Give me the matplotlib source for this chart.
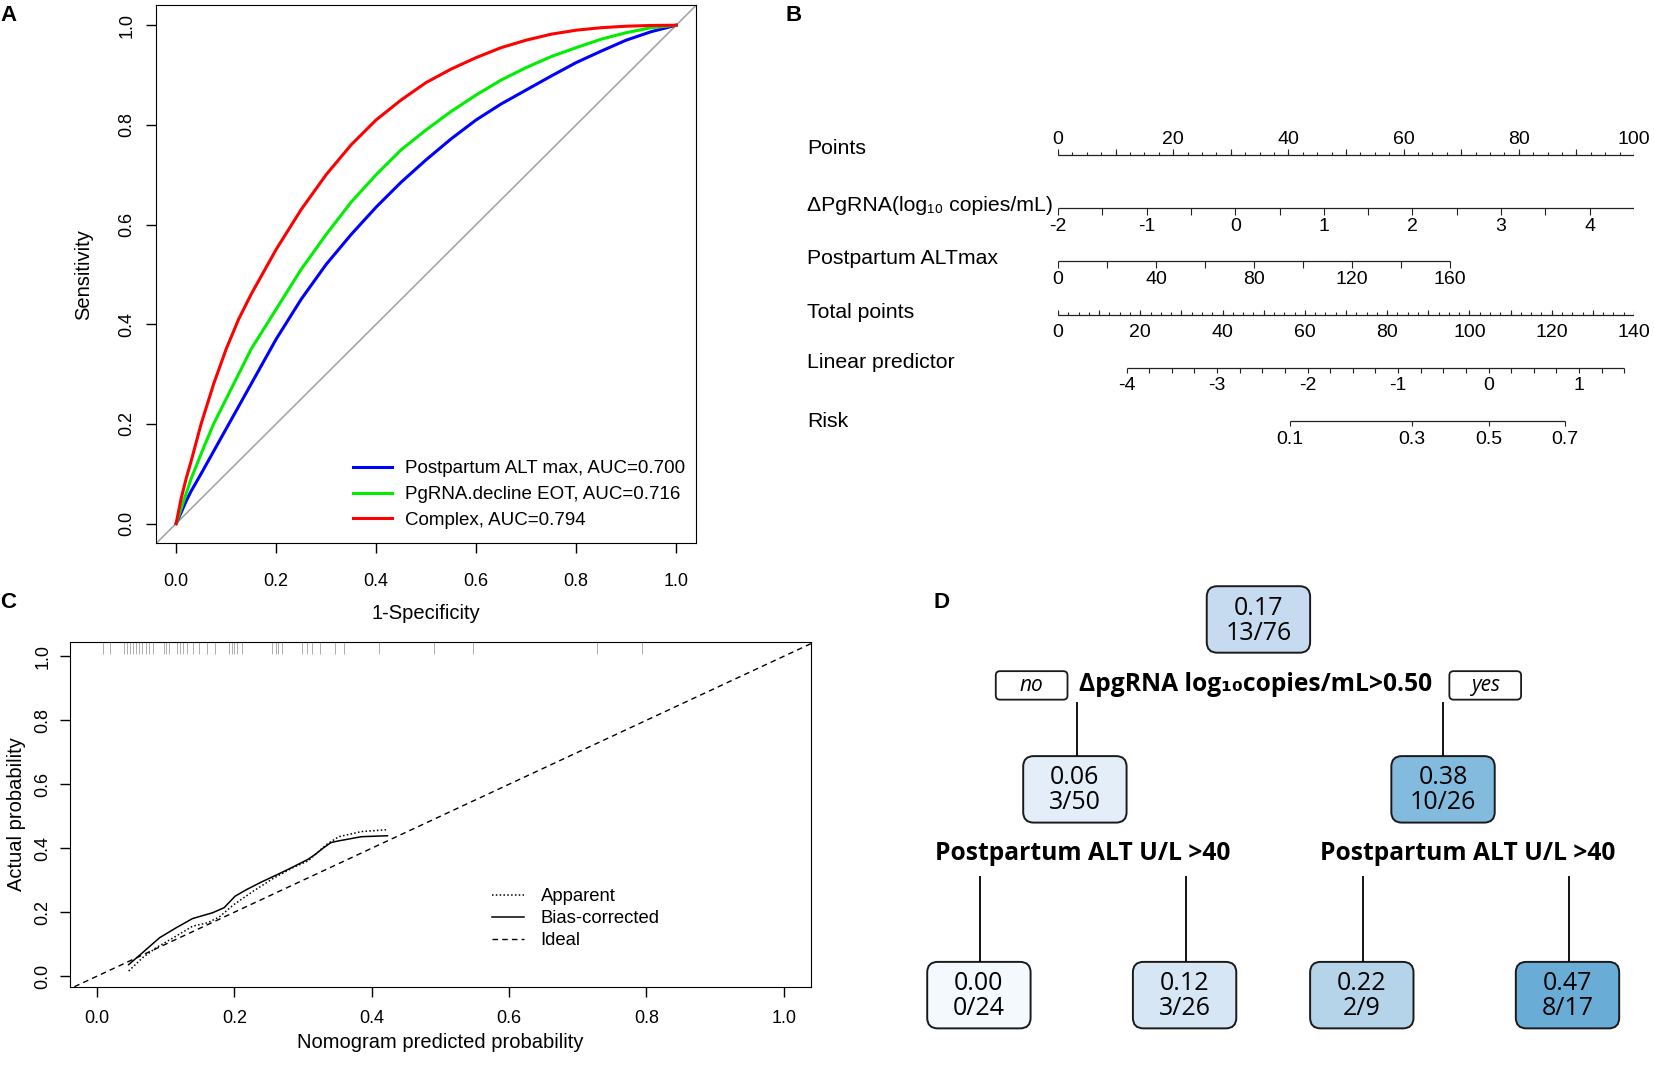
import numpy as np
import matplotlib
matplotlib.use("Agg")
import matplotlib.pyplot as plt
import matplotlib.transforms as mtrans
from matplotlib.patches import FancyBboxPatch

plt.rcParams["font.family"] = ["Liberation Sans", "DejaVu Sans"]
TREE_FONT = ["Open Sans", "DejaVu Sans"]

# ---------------- data ----------------
# A: ROC curves
roc_fpr = [0, 0.01, 0.02, 0.03, 0.05, 0.075, 0.1, 0.125, 0.15, 0.175, 0.2, 0.25, 0.3, 0.35,
           0.4, 0.45, 0.5, 0.55, 0.6, 0.65, 0.7, 0.75, 0.8, 0.85, 0.9, 0.95, 1.0]
roc_alt = [0, 0.022, 0.045, 0.065, 0.10, 0.145, 0.19, 0.235, 0.28, 0.325, 0.37, 0.45, 0.52,
           0.58, 0.635, 0.685, 0.73, 0.772, 0.81, 0.842, 0.87, 0.898, 0.925, 0.948, 0.97,
           0.987, 1.0]
roc_pgrna = [0, 0.03, 0.06, 0.09, 0.14, 0.20, 0.25, 0.30, 0.35, 0.39, 0.43, 0.51, 0.58,
             0.645, 0.70, 0.75, 0.79, 0.827, 0.86, 0.89, 0.915, 0.937, 0.955, 0.972, 0.985,
             0.995, 1.0]
roc_complex = [0, 0.05, 0.09, 0.125, 0.20, 0.28, 0.35, 0.41, 0.46, 0.505, 0.55, 0.63, 0.70,
               0.76, 0.81, 0.85, 0.885, 0.912, 0.935, 0.955, 0.97, 0.982, 0.99, 0.995,
               0.998, 0.9995, 1.0]
roc_names = ["Postpartum ALT max, AUC=0.700", "PgRNA.decline EOT, AUC=0.716", "Complex, AUC=0.794"]
roc_colors = ["#0000ff", "#00ee00", "#ff0000"]

# B: nomogram scales
points_labels = [0, 20, 40, 60, 80, 100]
dpg_labels = [-2, -1, 0, 1, 2, 3, 4]
dpg_range = (-2, 4.5)
alt_labels = [0, 40, 80, 120, 160]
alt_points_max = 68.1
total_labels = [0, 20, 40, 60, 80, 100, 120, 140]
lp_labels = [-4, -3, -2, -1, 0, 1]
lp_range = (-4, 1.5)
lp_at_zero = -4.757      # linear predictor at 0 total points
lp_per_point = 1 / 22.0
risk_labels = [0.1, 0.3, 0.5, 0.7]
row_names = ["Points", "\u0394PgRNA(log\u2081\u2080 copies/mL)", "Postpartum ALTmax",
             "Total points", "Linear predictor", "Risk"]

# C: calibration
app_x = [0.046, 0.066, 0.086, 0.115, 0.139, 0.161, 0.178, 0.198, 0.227, 0.256, 0.285,
         0.307, 0.318, 0.335, 0.352, 0.385, 0.423]
app_y = [0.016, 0.057, 0.089, 0.125, 0.156, 0.167, 0.185, 0.222, 0.265, 0.305, 0.339,
         0.360, 0.381, 0.413, 0.436, 0.452, 0.458]
bc_x = [0.046, 0.066, 0.091, 0.115, 0.139, 0.155, 0.168, 0.185, 0.201, 0.218, 0.240,
        0.263, 0.285, 0.307, 0.318, 0.329, 0.341, 0.352, 0.385, 0.423]
bc_y = [0.036, 0.073, 0.120, 0.151, 0.180, 0.190, 0.198, 0.214, 0.250, 0.271, 0.295,
        0.318, 0.341, 0.365, 0.381, 0.400, 0.418, 0.423, 0.436, 0.439]
rug = [0.008, 0.019, 0.039, 0.044, 0.048, 0.053, 0.056, 0.061, 0.066, 0.071, 0.075, 0.082,
       0.097, 0.101, 0.105, 0.117, 0.121, 0.125, 0.131, 0.139, 0.148, 0.160, 0.172, 0.192,
       0.197, 0.199, 0.204, 0.211, 0.255, 0.260, 0.264, 0.269, 0.298, 0.306, 0.313, 0.325,
       0.347, 0.359, 0.410, 0.490, 0.548, 0.728, 0.794]

# D: decision tree
events = [13, 3, 10, 0, 3, 2, 8]
totals = [76, 50, 26, 24, 26, 9, 17]
node_colors = ["#c6dbef", "#e4eef9", "#82bbdd", "#f4f9fe", "#d6e6f4", "#b5d4ea", "#69add6"]
split1 = "\u0394pgRNA log\u2081\u2080copies/mL>0.50"
split2 = "Postpartum ALT U/L >40"

# ---------------- layout helpers ----------------
W, H = 1568, 1013


def place(l, t, r, b):
    return [l / W, 1 - b / H, (r - l) / W, (b - t) / H]


fig = plt.figure(figsize=(16.54, 10.69), dpi=100)

for letter, x, y in [("A", 8, 15), ("B", 752, 15), ("C", 8, 571), ("D", 893, 571)]:
    fig.text(x / W, 1 - y / H, letter, fontsize=16, fontweight="bold", ha="center", va="center")

# ---------------- A ----------------
axA = fig.add_axes(place(148, 5, 660, 515))
axA.axline((0, 0), slope=1, color="#a6a6a6", lw=1.2)
for ys, c, n in zip([roc_alt, roc_pgrna, roc_complex], roc_colors, roc_names):
    axA.plot(roc_fpr, ys, color=c, lw=2.2, label=n)
axA.set_xlim(-0.04, 1.04)
axA.set_ylim(-0.04, 1.04)
axA.set_xticks(np.arange(0, 1.01, 0.2))
axA.set_yticks(np.arange(0, 1.01, 0.2))
axA.xaxis.set_major_formatter(plt.FormatStrFormatter("%.1f"))
axA.yaxis.set_major_formatter(plt.FormatStrFormatter("%.1f"))
axA.tick_params(axis="x", length=7, width=1, pad=14, labelsize=13)
axA.tick_params(axis="y", length=7, width=1, pad=8, labelsize=13)
plt.setp(axA.get_yticklabels(), rotation=90, va="center")
axA.set_xlabel("1-Specificity", fontsize=14.5, labelpad=10)
axA.set_ylabel("Sensitivity", fontsize=14.5, labelpad=18)
axA.legend(loc="upper left", bbox_to_anchor=(0.364, 0.155), frameon=False, fontsize=13.5,
           handlelength=2.1, handletextpad=0.7, labelspacing=0.47, borderpad=0,
           borderaxespad=0)

# ---------------- B ----------------
axB = fig.add_axes(place(1003, 96.6, 1549, 449.4))
axB.set_xlim(0, 100)
axB.set_ylim(6, -1)
axB.axis("off")


def lp_pos(v):
    return (np.asarray(v, float) - lp_at_zero) / lp_per_point / 1.4


def nomo_row(row, lo, hi, minor, major, lab_pos, labs, up=False, above=False,
             minor_len=0.06, major_len=0.12):
    axB.plot([lo, hi], [row, row], color="#222222", lw=0.9, solid_capstyle="butt")
    s = -1 if up else 1
    axB.vlines(minor, row, row + s * minor_len, color="#222222", lw=0.8)
    axB.vlines(major, row, row + s * major_len, color="#222222", lw=0.8)
    off = -0.3 if above else 0.34
    for p, t in zip(lab_pos, labs):
        axB.text(p, row + off, t, ha="center", va="center", fontsize=14)


nomo_row(0, 0, 100, np.arange(0, 100.1, 2.5), np.arange(0, 100.1, 10),
         points_labels, [str(v) for v in points_labels], up=True, above=True)
dpg_scale = 100 / (dpg_range[1] - dpg_range[0])
dpg_ticks = (np.arange(dpg_range[0], dpg_range[1] + 0.01, 0.5) - dpg_range[0]) * dpg_scale
nomo_row(1, 0, 100, [], dpg_ticks,
         (np.array(dpg_labels) - dpg_range[0]) * dpg_scale, [str(v) for v in dpg_labels])
alt_scale = alt_points_max / alt_labels[-1]
nomo_row(2, 0, alt_points_max, [], np.arange(0, 161, 20) * alt_scale,
         np.array(alt_labels) * alt_scale, [str(v) for v in alt_labels])
nomo_row(3, 0, 100, np.arange(0, 140.1, 2.5) / 1.4, np.arange(0, 140.1, 10) / 1.4,
         np.array(total_labels) / 1.4, [str(v) for v in total_labels], up=True,
         minor_len=0.05, major_len=0.09)
nomo_row(4, lp_pos(lp_range[0]), lp_pos(lp_range[1]), [],
         lp_pos(np.arange(lp_range[0], lp_range[1] + 0.01, 0.25)),
         lp_pos(lp_labels), [str(v) for v in lp_labels], major_len=0.1)
risk_lp = np.log(np.array(risk_labels) / (1 - np.array(risk_labels)))
nomo_row(5, lp_pos(risk_lp[0]), lp_pos(risk_lp[-1]), [], lp_pos(risk_lp),
         lp_pos(risk_lp), [str(v) for v in risk_labels], major_len=0.1)
label_x = (765 - 1003) / 5.46
label_off = [-0.12, -0.06, -0.06, -0.05, -0.1, 0.0]
for r, (name, o) in enumerate(zip(row_names, label_off)):
    axB.text(label_x, r + o, name, ha="left", va="center", fontsize=15.3, clip_on=False)

# ---------------- C ----------------
axC = fig.add_axes(place(66, 608, 769, 935))
axC.axline((0, 0), slope=1, color="k", lw=1.0, ls=(0, (4, 3)), label="Ideal")
axC.plot(app_x, app_y, color="k", lw=1.1, ls=(0, (1, 1.5)), label="Apparent")
axC.plot(bc_x, bc_y, color="k", lw=1.1, label="Bias-corrected")
axC.vlines(rug, 0.965, 1.0, transform=mtrans.blended_transform_factory(axC.transData, axC.transAxes),
           color="#999999", lw=0.55)
axC.set_xlim(-0.04, 1.04)
axC.set_ylim(-0.033, 1.046)
axC.set_xticks(np.arange(0, 1.01, 0.2))
axC.set_yticks(np.arange(0, 1.01, 0.2))
axC.xaxis.set_major_formatter(plt.FormatStrFormatter("%.1f"))
axC.yaxis.set_major_formatter(plt.FormatStrFormatter("%.1f"))
axC.tick_params(axis="x", length=7, width=1, pad=10, labelsize=13)
axC.tick_params(axis="y", length=7, width=1, pad=6, labelsize=13)
plt.setp(axC.get_yticklabels(), rotation=90, va="center")
axC.set_xlabel("Nomogram predicted probability", fontsize=14.5, labelpad=4)
axC.set_ylabel("Actual probability", fontsize=14.5, labelpad=6)
h, l = axC.get_legend_handles_labels()
order = [l.index("Apparent"), l.index("Bias-corrected"), l.index("Ideal")]
axC.legend([h[i] for i in order], [l[i] for i in order], loc="upper left",
           bbox_to_anchor=(0.569, 0.285), frameon=False, fontsize=13.3, handlelength=1.75,
           handletextpad=0.9, labelspacing=0.27, borderpad=0, borderaxespad=0)

# ---------------- D ----------------
axD = fig.add_axes(place(860, 545, 1568, 1000))
axD.set_xlim(860, 1568)
axD.set_ylim(1000, 545)
axD.axis("off")

node_x = [1193, 1019, 1368, 928, 1123, 1291, 1486]
node_y = [587, 748, 748, 943, 943, 943, 943]
box_w, box_h = 98, 63
for x, y, e, n, c in zip(node_x, node_y, events, totals, node_colors):
    axD.add_patch(FancyBboxPatch((x - box_w / 2, y - box_h / 2), box_w, box_h,
                                 boxstyle="round,pad=0,rounding_size=10",
                                 fc=c, ec="#1a1a1a", lw=1.4))
    axD.text(x, y + 1, f"{e / n:.2f}\n{e}/{n}", ha="center", va="center", fontsize=18,
             family=TREE_FONT, linespacing=1.0)

axD.text(1190, 649, split1, ha="center", va="center", fontsize=17.7, fontweight="bold",
         family=TREE_FONT)
for x in [1026, 1391]:
    axD.text(x, 809, split2, ha="center", va="center", fontsize=17.7, fontweight="bold",
             family=TREE_FONT)
for x, t in [(978, "no"), (1408, "yes")]:
    axD.add_patch(FancyBboxPatch((x - 34, 636), 68, 27, boxstyle="round,pad=0,rounding_size=4",
                                 fc="white", ec="#1a1a1a", lw=1.3))
    axD.text(x, 650, t, ha="center", va="center", fontsize=15, style="italic",
             family=TREE_FONT)

axD.vlines([node_x[1] + 2, node_x[2]], 665, node_y[1] - box_h / 2, color="k", lw=1.3)
axD.vlines([x + 1 for x in node_x[3:]], 830, node_y[3] - box_h / 2, color="k", lw=1.3)

fig.savefig("out.png", dpi=100)
